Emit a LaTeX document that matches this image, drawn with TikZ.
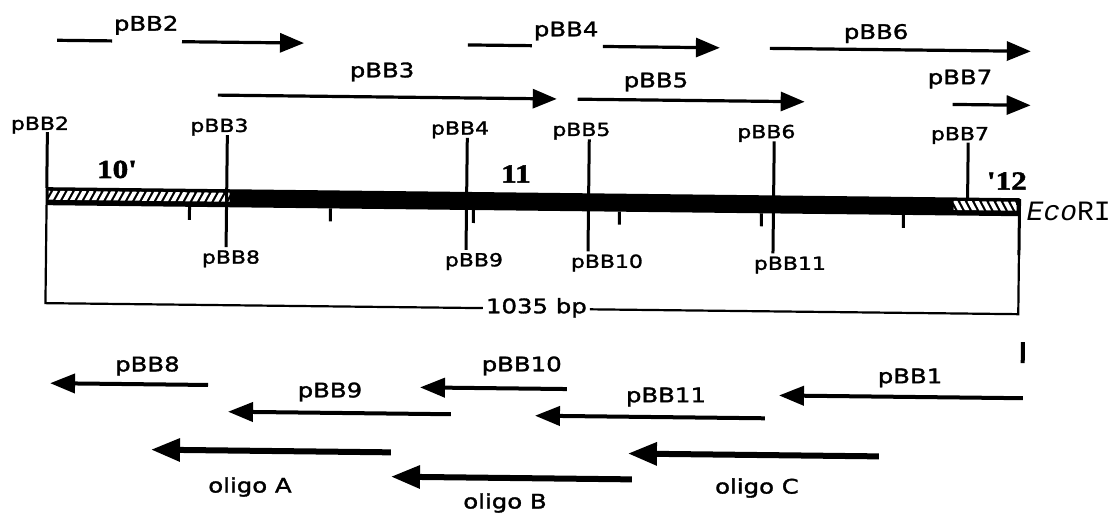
\documentclass[tikz,border=0pt]{standalone}
\usepackage{fontspec}
\setmainfont{DejaVu Sans}[FakeStretch=1.22,FakeBold=1.6]
\newfontfamily\numfont{Liberation Serif}[FakeBold=2,FakeStretch=1.2]
\newfontfamily\ecofont{Liberation Mono}
\usetikzlibrary{arrows.meta}
\begin{document}
\begin{tikzpicture}[x=1pt,y=-1pt,
  toplab/.style={font=\fontsize{20}{24}\selectfont, inner sep=0pt},
  barlab/.style={font=\fontsize{18}{22}\selectfont, inner sep=0pt},
  exonlab/.style={font=\numfont\bfseries\fontsize{26}{28}\selectfont, inner sep=0pt},
  fwdarrow/.style={line width=3.2pt, -{Triangle[length=24pt,width=19pt]}},
  revarrow/.style={line width=4pt, -{Triangle[length=25pt,width=19pt]}},
  oligoarrow/.style={line width=6pt, -{Triangle[length=29pt,width=22pt]}},
  stubline/.style={line width=3.2pt},
  siteline/.style={line width=3pt},
  tickmark/.style={line width=3pt},
  brk/.style={line width=2.2pt},
]
\path[use as bounding box, fill=white] (0,0) rectangle (1120,513);
\begin{scope}[rotate around={-0.65:(560,256)}]
% ---------- bar ----------
\fill (45,193) rectangle (1019,211);
\begin{scope}
  \clip (48,196.5) rectangle (229,205.5);
  \foreach \i in {0,...,26}{\draw[white,line width=4pt] ({42+7.2*\i},207) -- ({48+7.2*\i},196);}
\end{scope}
\begin{scope}
  \clip (953,196.5) rectangle (1016,205.5);
  \foreach \i in {0,...,9}{\draw[white,line width=4pt] ({947+7.2*\i},196) -- ({953+7.2*\i},207);}
\end{scope}
% ---------- site lines ----------
\coordinate (a2) at (46,138);  \coordinate (b2) at (46,194);
\coordinate (a3) at (226,139); \coordinate (b3) at (226,251);
\coordinate (a4) at (466,139); \coordinate (b4) at (466,251);
\coordinate (a5) at (588,139); \coordinate (b5) at (588,251);
\coordinate (a6) at (773,139); \coordinate (b6) at (773,251);
\coordinate (a7) at (967,138); \coordinate (b7) at (967,194);
\coordinate (ae) at (1019,194); \coordinate (be) at (1019,250);
\foreach \n in {2,3,4,5,6,7,e}{\draw[siteline] (a\n) -- (b\n);}
% ticks
\foreach \x [count=\k] in {189,330,473,619,761,903}{
  \coordinate (t\k a) at (\x,211); \coordinate (t\k b) at (\x,224);
  \draw[tickmark] (t\k a) -- (t\k b);}
% labels at bar
\node[barlab] (u2) at (38.5,131) {pBB2};
\node[barlab] (u3) at (218,131) {pBB3};
\node[barlab] (u4) at (458.6,131) {pBB4};
\node[barlab] (u5) at (580,131) {pBB5};
\node[barlab] (u6) at (765,131) {pBB6};
\node[barlab] (u7) at (958.6,131) {pBB7};
\node[barlab] (d8) at (231,262.5) {pBB8};
\node[barlab] (d9) at (474,262.5) {pBB9};
\node[barlab] (d10) at (607,262.5) {pBB10};
\node[barlab] (d11) at (790,262.5) {pBB11};
% exon labels
\node[exonlab] (x10) at (116,174.5) {10'};
\node[exonlab] (x11) at (515,174.5) {11};
\node[exonlab] (x12) at (1006,176) {'12};
\node[anchor=west, inner sep=0pt, font=\ecofont\fontsize{28}{32}\selectfont] (eco) at (1026,206) {\textit{Eco}RI};
% ---------- bracket ----------
\coordinate (bl) at (46,211); \coordinate (blc) at (46,309);
\coordinate (brc) at (1019,309);
\node[toplab, inner xsep=3pt] (bp) at (537,308) {1035 bp};
\draw[brk] (bl) -- (blc) -- (bp.west |- blc);
\draw[brk] (bp.east |- brc) -- (brc) -- (be);
% stray mark
\coordinate (m1) at (1024,337); \coordinate (m2) at (1024,358);
\draw[line width=4pt] (m1) -- (m2);
% ---------- top arrows ----------
\coordinate (s2a) at (54.6,46); \coordinate (s2b) at (109.6,46);
\draw[stubline] (s2a) -- (s2b);
\node[toplab] (f2) at (143.6,30) {pBB2};
\coordinate (f2a) at (179.6,46); \coordinate (f2b) at (301.6,46);
\draw[fwdarrow] (f2a) -- (f2b);
\coordinate (s4a) at (465.6,46); \coordinate (s4b) at (529.6,46);
\draw[stubline] (s4a) -- (s4b);
\node[toplab] (f4) at (563.6,31) {pBB4};
\coordinate (f4a) at (600.6,46); \coordinate (f4b) at (717.6,46);
\draw[fwdarrow] (f4a) -- (f4b);
\node[toplab] (f6) at (873.6,30) {pBB6};
\coordinate (f6a) at (767.6,46); \coordinate (f6b) at (1028.6,46);
\draw[fwdarrow] (f6a) -- (f6b);
\node[toplab] (f3) at (380,74) {pBB3};
\coordinate (f3a) at (216,99); \coordinate (f3b) at (555,99);
\draw[fwdarrow] (f3a) -- (f3b);
\node[toplab] (f5) at (654,81) {pBB5};
\coordinate (f5a) at (576,99); \coordinate (f5b) at (803,99);
\draw[fwdarrow] (f5a) -- (f5b);
\node[toplab] (f7) at (958,74.5) {pBB7};
\coordinate (f7a) at (951,100); \coordinate (f7b) at (1029,100);
\draw[fwdarrow] (f7a) -- (f7b);
% ---------- bottom arrows ----------
\node[toplab] (r8) at (148.7,370.7) {pBB8};
\coordinate (r8a) at (209.5,389); \coordinate (r8b) at (51.5,389);
\draw[revarrow] (r8a) -- (r8b);
\node[toplab] (r10) at (523,366.4) {pBB10};
\coordinate (r10a) at (568.5,389); \coordinate (r10b) at (421.5,389);
\draw[revarrow] (r10a) -- (r10b);
\node[toplab] (r9) at (331.5,394.6) {pBB9};
\coordinate (r9a) at (452.8,415.5); \coordinate (r9b) at (229.8,415.5);
\draw[revarrow] (r9a) -- (r9b);
\node[toplab] (r1) at (911.4,374) {pBB1};
\coordinate (r1a) at (1024.6,393); \coordinate (r1b) at (780.6,393);
\draw[revarrow] (r1a) -- (r1b);
\node[toplab] (r11) at (667.6,395.8) {pBB11};
\coordinate (r11a) at (766.8,416); \coordinate (r11b) at (536.8,416);
\draw[revarrow] (r11a) -- (r11b);
% oligos
\coordinate (oAa) at (393.2,454.3); \coordinate (oAb) at (153.2,454.3);
\draw[oligoarrow] (oAa) -- (oAb);
\node[toplab] (lA) at (252.6,490.5) {oligo A};
\coordinate (oCa) at (881.2,452.8); \coordinate (oCb) at (630.2,452.8);
\draw[oligoarrow] (oCa) -- (oCb);
\node[toplab] (lC) at (759.6,485.8) {oligo C};
\coordinate (oBa) at (634.5,478.6); \coordinate (oBb) at (393.5,478.6);
\draw[oligoarrow] (oBa) -- (oBb);
\node[toplab] (lB) at (507.8,503.6) {oligo B};
\end{scope}
\end{tikzpicture}
\end{document}
